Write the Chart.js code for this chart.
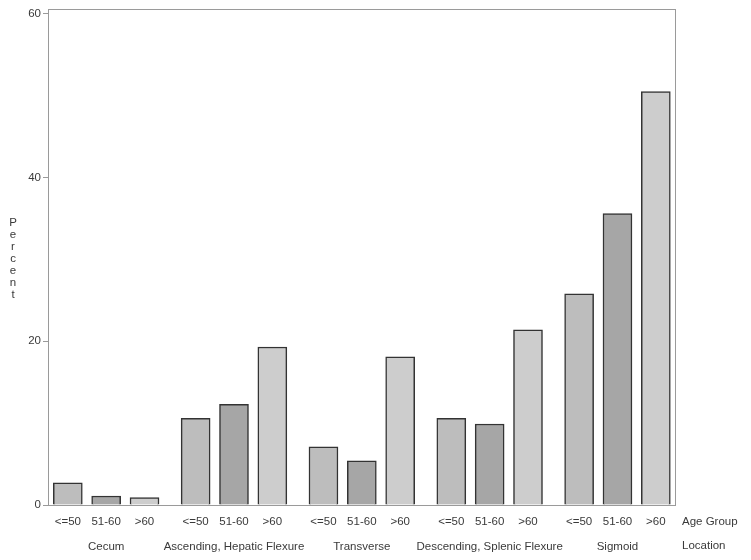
<!DOCTYPE html>
<html>
<head>
<meta charset="utf-8">
<title>Percent by Location and Age Group</title>
<script src="https://cdn.jsdelivr.net/npm/chart.js@4/dist/chart.umd.min.js"></script>
<style>
  html, body { margin: 0; padding: 0; background: #fff; }
  #wrap { width: 751px; height: 560px; }
</style>
</head>
<body>
<div id="wrap"><canvas id="chart" width="751" height="560"></canvas></div>
<script>
// Data (percent)
const locations = ['Cecum', 'Ascending, Hepatic Flexure', 'Transverse', 'Descending, Splenic Flexure', 'Sigmoid'];
const ageGroups = ['<=50', '51-60', '>60'];
const pctUnder50 = [2.7, 10.6, 7.1, 10.6, 25.8];
const pct51to60 = [1.1, 12.3, 5.4, 9.9, 35.6];
const pctOver60 = [0.9, 19.3, 18.1, 21.4, 50.5];
const yTicks = [0, 20, 40, 60];

const ageColors = ['#bdbdbd', '#a6a6a6', '#cdcdcd'];
const TEXT = '#3a3a3a';
const FRAME = '#9a9a9a';
const FONT = { family: '"Liberation Sans", Arial, sans-serif', size: 11.5 };

// each location is one unit wide on the x scale, bars inside step by 0.3
const BAR_STEP = 0.3;
function barX(loc, age) { return loc + age * BAR_STEP; }

const seriesByAge = [pctUnder50, pct51to60, pctOver60];
const barPositions = [];
locations.forEach((_, l) => ageGroups.forEach((_, a) => barPositions.push(barX(l, a))));
const groupCenters = locations.map((_, l) => barX(l, 1));

/**
 * Frame round the plot, stacked "Percent" title, and the row titles on the right.
 */
const decorations = {
  id: 'decorations',
  afterDraw(chart) {
    const { ctx, chartArea: ca, scales } = chart;
    ctx.save();
    ctx.strokeStyle = FRAME;
    ctx.lineWidth = 1;
    ctx.strokeRect(Math.round(ca.left) + 0.5, Math.round(ca.top) + 0.5,
      Math.round(ca.right - ca.left), Math.round(ca.bottom - ca.top));

    ctx.fillStyle = TEXT;
    ctx.font = `${FONT.size}px ${FONT.family}`;
    ctx.textAlign = 'center';
    ctx.textBaseline = 'middle';
    const word = 'Percent'.split('');
    const midY = (ca.top + ca.bottom) / 2 + 2;
    word.forEach((ch, i) => {
      ctx.fillText(ch, 13, midY + (i - (word.length - 1) / 2) * 12);
    });

    ctx.textAlign = 'left';
    ctx.fillText('Age Group', ca.right + 7, scales.x.top + 17);
    ctx.fillText('Location', ca.right + 7, scales.x2.top + 20);
    ctx.restore();
  }
};

const datasets = ageGroups.map((age, a) => ({
  label: age,
  data: seriesByAge[a].map((v, l) => ({ x: barX(l, a), y: v })),
  backgroundColor: ageColors[a],
  borderColor: '#333',
  borderWidth: 1.5,
  borderSkipped: 'start',
  barThickness: 29,
  grouped: false
}));

new Chart(document.getElementById('chart'), {
  type: 'bar',
  data: { datasets },
  options: {
    responsive: false,
    animation: false,
    layout: { padding: { left: 0, right: 76, top: 9, bottom: 0 } },
    plugins: { legend: { display: false }, tooltip: { enabled: false } },
    scales: {
      x: {
        type: 'linear',
        position: 'bottom',
        weight: 0,
        offset: false,
        min: -0.155,
        max: 4.75,
        grid: { display: false, offset: false },
        border: { display: false },
        afterBuildTicks: (axis) => { axis.ticks = barPositions.map(v => ({ value: v })); },
        afterFit: (axis) => { axis.height = 21; },
        ticks: {
          autoSkip: false,
          maxRotation: 0,
          padding: 2,
          color: TEXT,
          font: FONT,
          callback: (value, index) => ageGroups[index % ageGroups.length]
        }
      },
      x2: {
        type: 'linear',
        position: 'bottom',
        weight: 1,
        offset: false,
        min: -0.155,
        max: 4.75,
        grid: { display: false, offset: false },
        border: { display: false },
        afterBuildTicks: (axis) => { axis.ticks = groupCenters.map(v => ({ value: v })); },
        afterFit: (axis) => { axis.height = 34; },
        ticks: {
          autoSkip: false,
          maxRotation: 0,
          padding: 6,
          color: TEXT,
          font: FONT,
          callback: (value, index) => locations[index]
        }
      },
      y: {
        min: 0,
        max: 60.6,
        afterBuildTicks: (axis) => { axis.ticks = yTicks.map(v => ({ value: v })); },
        afterFit: (axis) => { axis.width = 48; },
        grid: { drawOnChartArea: false, drawTicks: true, tickLength: 5, color: FRAME },
        border: { display: false },
        ticks: { padding: 2, color: TEXT, font: FONT }
      }
    }
  },
  plugins: [decorations]
});
</script>
</body>
</html>
